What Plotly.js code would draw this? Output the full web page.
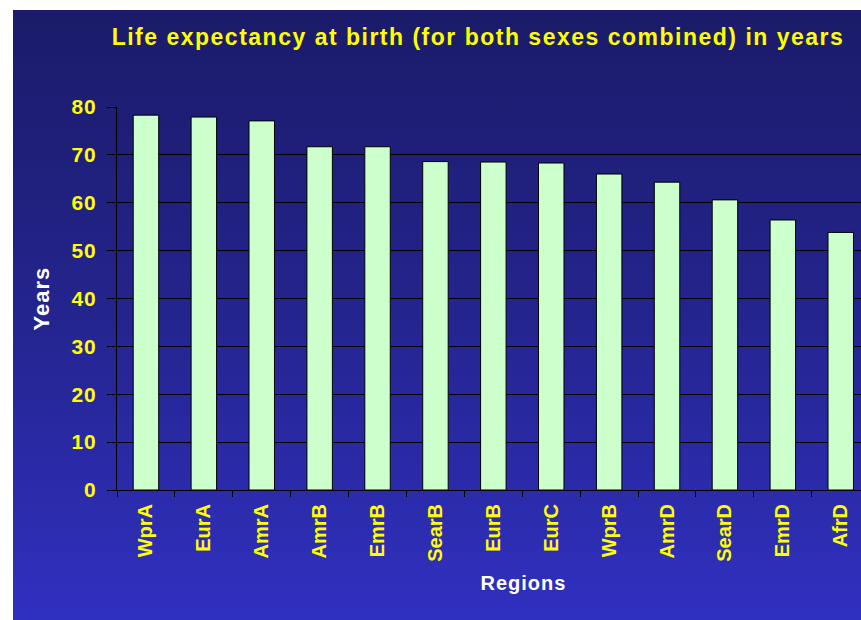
<!DOCTYPE html>
<html>
<head>
<meta charset="utf-8">
<script src="https://cdn.plot.ly/plotly-3.0.1.min.js"></script>
<style>
html,body{margin:0;padding:0;background:#ffffff;}
#wrap{position:relative;width:861px;height:620px;overflow:hidden;}
#bg{position:absolute;left:13px;top:10px;width:848px;height:610px;background:linear-gradient(to bottom,#1b1b6a 0%,#23238a 45%,#3030c0 100%);}
#chart{position:absolute;left:0;top:0;width:861px;height:620px;}
#chart .gtitle{letter-spacing:1.5px;}
#chart .ytick text{letter-spacing:1px;}
#chart .annotation-text{letter-spacing:1px;}
</style>
</head>
<body>
<div id="wrap"><div id="bg"></div><div id="chart"></div></div>
<script>
const regions = ["WprA","EurA","AmrA","AmrB","EmrB","SearB","EurB","EurC","WprB","AmrD","SearD","EmrD","AfrD"];
const lifeExpectancy = [78.3, 77.9, 77.1, 71.7, 71.7, 68.6, 68.5, 68.3, 66.0, 64.3, 60.6, 56.4, 53.8];
const yTicks = [0,10,20,30,40,50,60,70,80];

const trace = {
  type: "bar",
  x: regions,
  y: lifeExpectancy,
  width: 0.44,
  marker: {color: "#ccffcc", line: {color: "#000000", width: 1}},
  hoverinfo: "skip"
};

const layout = {
  width: 861, height: 620,
  paper_bgcolor: "rgba(0,0,0,0)",
  plot_bgcolor: "rgba(0,0,0,0)",
  margin: {l: 117, r: 0, t: 107, b: 130, pad: 0},
  showlegend: false,
  font: {family: "Liberation Sans, Arial, sans-serif"},
  title: {
    text: "<b>Life expectancy at birth (for both sexes combined) in years</b>",
    font: {size: 23, color: "#ffff00", family: "Liberation Sans, Arial, sans-serif"},
    x: 478/861, xanchor: "center", xref: "container",
    y: 1 - 37/620, yanchor: "middle", yref: "container"
  },
  xaxis: {
    type: "category",
    range: [-0.5, 12.35],
    showline: true, linecolor: "#000000", linewidth: 1,
    ticks: "outside", ticklen: 6, tickcolor: "#000000", tickson: "boundaries",
    tickangle: -90,
    ticklabelstandoff: 5,
    tickfont: {size: 20, color: "#ffff00", family: "Liberation Sans, Arial, sans-serif", weight: "bold"},
    showgrid: false, zeroline: false, fixedrange: true
  },
  yaxis: {
    range: [0, 80],
    tickvals: yTicks,
    ticktext: yTicks.map(String),
    showline: true, linecolor: "#000000", linewidth: 1,
    ticks: "outside", ticklen: 9, tickcolor: "#000000",
    ticklabelstandoff: 6,
    tickfont: {size: 21, color: "#ffff00", family: "Liberation Sans, Arial, sans-serif", weight: "bold"},
    showgrid: true, gridcolor: "#000000", gridwidth: 1,
    zeroline: false, fixedrange: true
  },
  annotations: [
    {text: "<b>Years</b>", xref: "paper", yref: "paper", x: (41-117)/744, y: (490-299)/383,
     xanchor: "center", yanchor: "middle", textangle: -90, showarrow: false,
     font: {size: 22, color: "#ffffff", family: "Liberation Sans, Arial, sans-serif"}},
    {text: "<b>Regions</b>", xref: "paper", yref: "paper", x: (523-117)/744, y: -(583-490)/383,
     xanchor: "center", yanchor: "middle", showarrow: false,
     font: {size: 20, color: "#ffffff", family: "Liberation Sans, Arial, sans-serif"}}
  ]
};

Plotly.newPlot("chart", [trace], layout, {displayModeBar: false, staticPlot: true});
</script>
</body>
</html>
